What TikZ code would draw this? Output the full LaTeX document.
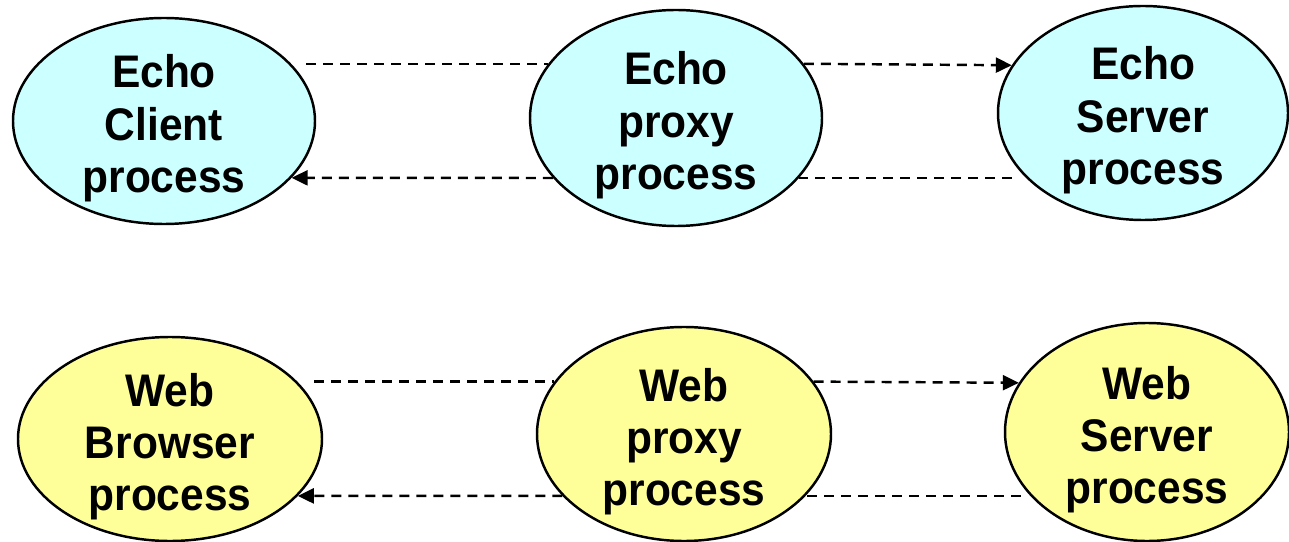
\documentclass[tikz,border=0pt]{standalone}
\usepackage{fontspec}
\setmainfont{Liberation Sans}[FakeStretch=0.93]
\usetikzlibrary{arrows.meta, shapes.geometric}
\definecolor{echofill}{HTML}{CCFFFF}
\definecolor{webfill}{HTML}{FFFF99}
% three centred lines, first baseline 0.66cm above the node centre
\newcommand{\proclines}[3]{\raisebox{0.66cm}[0pt][0pt]{\begin{tabular}[t]{@{}c@{}}#1\\#2\\#3\end{tabular}}}
\begin{document}
\begin{tikzpicture}[
  proc/.style={ellipse, draw=black, line width=1.4pt, inner sep=0pt, font=\bfseries\fontsize{26}{29.6}\selectfont},
  flow/.style={dash pattern=on 0.2cm off 0.14cm, line width=1.4pt},
  tip/.style={-{Triangle[length=0.32cm, width=0.3cm]}}]
\useasboundingbox (0,0) rectangle (25.78,10.82);
% echo row
\node (eclient) at (3.28, 8.40) [proc, fill=echofill, minimum width=6.04cm, minimum height=4.12cm] {\proclines{Echo}{Client}{process}};
\node (eproxy) at (13.52, 8.46) [proc, fill=echofill, minimum width=5.84cm, minimum height=4.32cm] {\proclines{Echo}{proxy}{process}};
\node (eserver) at (22.86, 8.56) [proc, fill=echofill, minimum width=5.80cm, minimum height=4.28cm] {\proclines{Echo}{Server}{process}};
% web row
\node (wbrowser) at (3.40, 2.04) [proc, fill=webfill, minimum width=6.08cm, minimum height=4.08cm] {\proclines{Web}{Browser}{process}};
\node (wproxy) at (13.68, 2.14) [proc, fill=webfill, minimum width=5.88cm, minimum height=4.28cm] {\proclines{Web}{proxy}{process}};
\node (wserver) at (22.94, 2.18) [proc, fill=webfill, minimum width=5.68cm, minimum height=4.36cm] {\proclines{Web}{Server}{process}};
\draw [flow] ([xshift=-0.2cm]eproxy.157 -| eclient.east) -- (eproxy.157);
\draw [flow, tip] (eproxy.23) -- (eserver.160);
\draw [flow] ([xshift=0.3cm]eproxy.-26 -| eserver.west) -- (eproxy.-26);
\draw [flow, tip] (eproxy.-154) -- (eclient.-24);
\draw [flow] ([xshift=-0.18cm]wproxy.158 -| wbrowser.east) -- (wproxy.158);
\draw [flow, tip] (wproxy.22) -- (wserver.159);
\draw [flow] ([xshift=0.34cm]wproxy.-27 -| wserver.west) -- (wproxy.-27);
\draw [flow, tip] (wproxy.-153) -- (wbrowser.-24);
\end{tikzpicture}
\end{document}
